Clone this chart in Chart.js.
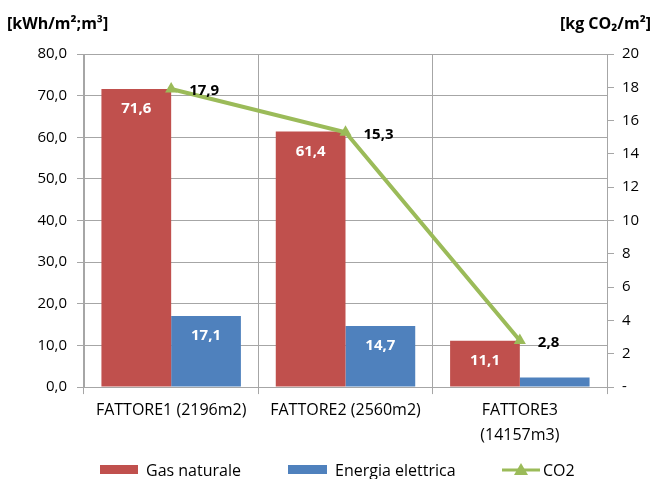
<!DOCTYPE html>
<html>
<head>
<meta charset="utf-8">
<script src="https://cdn.jsdelivr.net/npm/chart.js@4.4.1/dist/chart.umd.min.js"></script>
<style>
  html, body { margin: 0; padding: 0; background: #fff; }
  #wrap { width: 657px; height: 479px; }
</style>
</head>
<body>
<div id="wrap"><canvas id="chart" width="657" height="479"></canvas></div>
<script>
// dati
const categories = ['FATTORE1 (2196m2)', 'FATTORE2 (2560m2)', ['FATTORE3', '(14157m3)']];
const gasNaturale = [71.6, 61.4, 11.1];
const energiaElettrica = [17.1, 14.7, 2.3];
const co2 = [17.9, 15.3, 2.8];
const leftTicks = [0, 10, 20, 30, 40, 50, 60, 70, 80];
const rightTicks = [0, 2, 4, 6, 8, 10, 12, 14, 16, 18, 20];

const RED = '#C0504D';
const BLUE = '#4F81BD';
const GREEN = '#9BBB59';
const GRID = '#A6A6A6';
const FONT = "'Open Sans', 'Liberation Sans', sans-serif";

function fmt(v) {
  return v.toFixed(1).replace('.', ',');
}

// titoli degli assi, etichette dei valori e legenda
const extraText = {
  id: 'extraText',
  afterDatasetsDraw(chart) {
    const ctx = chart.ctx;
    ctx.save();
    ctx.font = 'bold 16px ' + FONT;
    ctx.fillStyle = '#000';
    ctx.textBaseline = 'middle';
    ctx.textAlign = 'left';
    ctx.fillText('[kWh/m²;m³]', 7, 24);
    ctx.textAlign = 'right';
    ctx.fillText('[kg CO₂/m²]', 651, 24);

    // etichette delle barre
    ctx.font = 'bold 15px ' + FONT;
    ctx.textAlign = 'center';
    ctx.fillStyle = '#fff';
    [0, 1].forEach(di => {
      const ds = chart.data.datasets[di];
      chart.getDatasetMeta(di).data.forEach((bar, i) => {
        if (bar.base - bar.y < 25) return;
        ctx.fillText(fmt(ds.data[i]), bar.x, bar.y + 20);
      });
    });

    // etichette della linea
    ctx.fillStyle = '#000';
    ctx.textAlign = 'left';
    chart.getDatasetMeta(2).data.forEach((pt, i) => {
      ctx.fillText(fmt(co2[i]), pt.x + 18, pt.y + 2);
    });

    // legenda
    const ly = 470;
    ctx.font = '16px ' + FONT;
    ctx.fillStyle = RED;
    ctx.fillRect(100, ly - 5, 38, 9);
    ctx.fillStyle = BLUE;
    ctx.fillRect(288, ly - 5, 39, 9);
    ctx.strokeStyle = GREEN;
    ctx.fillStyle = GREEN;
    ctx.lineWidth = 3;
    ctx.beginPath(); ctx.moveTo(502, ly); ctx.lineTo(540, ly); ctx.stroke();
    ctx.beginPath(); ctx.moveTo(521, ly - 7); ctx.lineTo(528, ly + 5); ctx.lineTo(514, ly + 5); ctx.closePath(); ctx.fill();
    ctx.fillStyle = '#000';
    const items = chart.data.datasets.map(d => d.label);
    ctx.fillText(items[0], 146, ly + 1);
    ctx.fillText(items[1], 335, ly + 1);
    ctx.fillText(items[2], 543, ly + 1);
    ctx.restore();
  }
};

const ctx = document.getElementById('chart').getContext('2d');
new Chart(ctx, {
  type: 'bar',
  data: {
    labels: categories,
    datasets: [
      {
        label: 'Gas naturale',
        data: gasNaturale,
        backgroundColor: RED,
        yAxisID: 'y',
        order: 2,
        categoryPercentage: 0.8,
        barPercentage: 1.0
      },
      {
        label: 'Energia elettrica',
        data: energiaElettrica,
        backgroundColor: BLUE,
        yAxisID: 'y',
        order: 2,
        categoryPercentage: 0.8,
        barPercentage: 1.0
      },
      {
        type: 'line',
        label: 'CO2',
        data: co2,
        borderColor: GREEN,
        backgroundColor: GREEN,
        borderWidth: 4,
        pointStyle: 'triangle',
        pointRadius: 7,
        pointBorderWidth: 0,
        yAxisID: 'y1',
        order: 1,
        tension: 0
      }
    ]
  },
  options: {
    responsive: false,
    animation: false,
    layout: { padding: { top: 54, left: 0, right: 0, bottom: 27 } },
    plugins: {
      tooltip: { enabled: false },
      legend: { display: false }
    },
    scales: {
      x: {
        grid: { color: GRID, tickColor: GRID, tickLength: 7, offset: true },
        border: { color: GRID },
        ticks: { color: '#000', font: { family: FONT, size: 16, lineHeight: 1.56 }, maxRotation: 0, autoSkip: false, padding: 4 }
      },
      y: {
        position: 'left',
        min: 0,
        max: 80,
        afterBuildTicks(scale) { scale.ticks = leftTicks.map(v => ({ value: v })); },
        afterFit(scale) { scale.width = 84; },
        grid: { color: GRID, tickColor: GRID, tickLength: 7 },
        border: { color: GRID },
        ticks: { color: '#000', font: { family: FONT, size: 15 }, padding: 10, callback: v => fmt(v) }
      },
      y1: {
        position: 'right',
        min: 0,
        max: 20,
        afterBuildTicks(scale) { scale.ticks = rightTicks.map(v => ({ value: v })); },
        afterFit(scale) { scale.width = 50; },
        grid: { drawOnChartArea: false, color: GRID, tickColor: GRID, tickLength: 7 },
        border: { color: GRID },
        ticks: { color: '#000', font: { family: FONT, size: 15 }, padding: 8, callback: v => v === 0 ? '-' : String(v) }
      }
    }
  },
  plugins: [extraText]
});
</script>
</body>
</html>
